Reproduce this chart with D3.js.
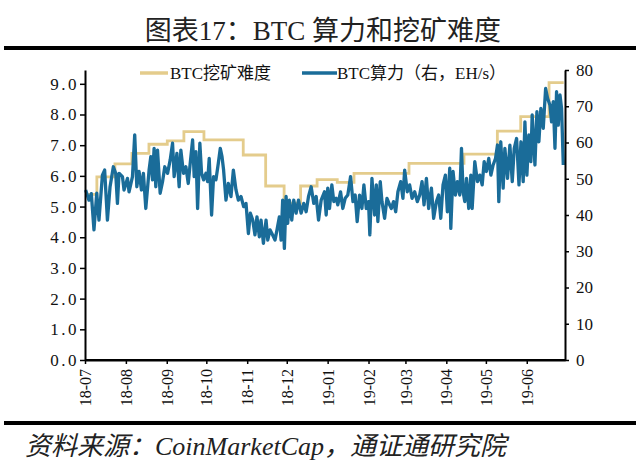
<!DOCTYPE html>
<html><head><meta charset="utf-8">
<script src="https://cdn.jsdelivr.net/npm/d3@7"></script>
<style>
html,body{margin:0;padding:0;background:#fff;}
svg{display:block;}
.serif{font-family:"Liberation Serif","Times New Roman","Noto Sans CJK SC",serif;}
</style></head>
<body>
<svg id="c" width="640" height="470"></svg>
<script>
// ---- data ----
const titleText = "图表17：BTC 算力和挖矿难度";
const sourceText = "资料来源：CoinMarketCap，通证通研究院";
const seriesNames = ["BTC挖矿难度", "BTC算力（右，EH/s）"];
const monthLabels = ["18-07","18-08","18-09","18-10","18-11","18-12","19-01","19-02","19-03","19-04","19-05","19-06"];
const leftTicks = [0,1,2,3,4,5,6,7,8,9];
const rightTicks = [0,10,20,30,40,50,60,70,80];
// mining difficulty (T), step series: days since 2018-07-01
const diffDay = [0, 9, 22.7, 35.6, 48.5, 62.4, 75, 90.2, 120, 137, 151, 163.5, 176, 191.3, 204, 245.7, 287.4, 312.7, 330.4, 351.9, 363];
const diffVal = [5.40, 5.97, 6.39, 6.73, 7.03, 7.14, 7.44, 7.17, 6.68, 5.67, 5.11, 5.67, 5.88, 5.79, 6.08, 6.41, 6.71, 7.46, 7.93, 9.04, 9.04];
// hash rate (EH/s): days since 2018-07-01
const hashDay = [0.5,3.0,4.8,6.8,8.9,10.6,13.2,14.9,17.0,19.0,21.5,23.3,24.6,25.8,28.4,29.6,32.2,33.4,36.0,37.7,39.3,41.0,42.8,44.3,46.1,48.6,49.9,51.2,52.4,53.7,55.0,57.0,58.8,60.5,62.6,64.6,66.4,67.6,69.7,71.4,72.7,74.7,76.5,78.3,79.8,81.6,82.8,84.1,85.4,87.1,88.4,89.9,91.7,93.0,94.2,96.0,97.5,99.3,101.1,102.6,103.9,105.1,106.9,108.7,110.7,112.5,114.5,116.3,118.3,120.3,122.1,123.9,125.4,127.2,128.9,130.4,132.2,133.5,135.3,137.3,138.6,140.3,142.3,144.1,145.6,147.4,148.7,149.9,151.2,152.5,153.7,155.0,156.8,158.3,160.1,161.9,163.9,165.9,167.7,169.5,171.5,173.5,175.3,177.1,179.1,
181.6,182.9,184.1,185.4,187.2,188.7,190.5,191.7,193.8,195.5,197.3,199.3,201.4,203.2,204.9,206.4,208.2,210.0,211.5,213.3,215.0,216.0,217.6,219.6,220.9,222.1,223.9,225.2,227.2,229.0,231.0,232.3,234.0,235.6,237.3,239.4,241.1,242.4,244.4,246.2,248.0,250.0,252.0,253.8,255.6,257.1,258.9,260.6,262.7,264.4,266.5,268.2,269.8,271.5,273.3,274.8,276.6,277.4,279.1,280.9,282.4,284.2,285.5,286.7,288.0,289.3,291.0,292.6,293.6,295.6,297.6,299.4,301.2,302.7,304.4,306.2,307.8,309.5,311.3,312.8,313.8,315.3,317.1,318.4,320.4,322.2,324.0,325.5,327.3,329.1,330.6,332.3,333.6,335.1,336.6,338.1,339.1,341.2,342.7,344.2,345.7,347.5,349.3,350.8,352.6,353.8,355.1,356.4,357.6,358.9,360.2,361.4,362.7];
const hashVal = [46.9,44.1,45.9,35.9,46.0,38.6,51.0,52.4,38.6,47.8,53.3,51.5,43.2,51.5,50.6,46.9,50.1,46.4,50.6,62.1,47.8,52.0,46.9,51.5,41.8,52.4,56.1,49.7,58.4,47.8,57.9,46.0,49.2,53.3,51.5,55.2,59.8,50.6,57.0,47.8,57.9,51.5,53.3,48.7,54.3,60.7,50.6,57.5,41.8,59.8,51.5,49.7,51.5,49.2,55.6,40.0,50.6,49.7,54.3,58.4,56.1,52.4,44.1,48.7,45.1,52.4,46.9,44.1,45.1,42.3,43.2,34.9,40.5,38.6,34.5,39.5,34.0,38.6,32.2,38.6,33.1,35.9,34.5,33.1,35.9,39.5,33.1,44.1,30.8,45.1,37.7,44.1,38.6,44.1,40.5,44.1,40.5,43.2,40.9,45.1,47.8,43.2,45.1,38.6,44.1,
46.4,40.0,47.4,41.8,48.3,43.7,44.6,42.8,46.4,41.8,44.6,45.5,50.6,43.7,45.5,38.2,45.5,41.8,48.3,41.8,43.7,34.5,50.1,40.0,48.3,38.2,49.2,43.7,39.1,44.6,42.8,41.8,43.7,40.9,46.4,49.2,44.6,52.4,46.4,48.3,44.6,46.4,43.7,45.5,49.2,42.8,50.1,41.8,47.4,39.1,43.7,45.5,39.1,48.3,51.0,40.9,52.9,36.3,52.0,45.5,49.2,45.5,58.4,46.4,43.7,50.1,41.8,51.0,41.8,54.7,49.2,51.0,48.3,54.7,52.0,55.6,51.0,53.8,55.6,59.3,43.7,60.2,47.4,58.4,50.1,59.3,49.2,58.4,61.1,48.3,60.2,49.2,65.7,51.0,62.1,54.7,67.6,53.8,68.5,60.2,69.4,63.9,74.9,72.2,70.3,65.7,71.3,58.4,74.0,64.8,73.1,69.4,53.8];

// ---- chart ----
const svg = d3.select("#c");
const x0 = 85, x1 = 565, yTop = 70, yBot = 360;
const start = new Date(2018, 6, 1);
const toDate = d => new Date(start.getTime() + d * 864e5);
const x = d3.scaleTime().domain([start, new Date(2019, 5, 30)]).range([x0, x1]);
const yL = d3.scaleLinear().domain([0, 9.45]).range([yBot, yTop]);
const yR = d3.scaleLinear().domain([0, 80]).range([yBot, yTop]);
const gold = "#E4CC8C", blue = "#1A6C99";

// title
svg.append("text").attr("class","serif").attr("x", 323).attr("y", 40)
  .attr("text-anchor","middle").attr("font-size", 27).attr("fill","#222").text(titleText);
svg.append("rect").attr("x", 4).attr("y", 46).attr("width", 632).attr("height", 4).attr("fill","#000");
svg.append("rect").attr("x", 4).attr("y", 421).attr("width", 632).attr("height", 4).attr("fill","#000");
svg.append("text").attr("class","serif").attr("x", 25).attr("y", 455)
  .attr("font-size", 26).attr("font-style","italic").attr("fill","#222").text(sourceText);

// lines
const diffData = diffDay.map((d, i) => ({t: toDate(d), v: diffVal[i]}));
const hashData = hashDay.map((d, i) => ({t: toDate(d), v: hashVal[i]}));
svg.append("path").datum(diffData)
  .attr("d", d3.line().x(d => x(d.t)).y(d => yL(d.v)).curve(d3.curveStepAfter))
  .attr("fill","none").attr("stroke", gold).attr("stroke-width", 2.8);
svg.append("path").datum(hashData)
  .attr("d", d3.line().x(d => x(d.t)).y(d => yR(d.v)))
  .attr("fill","none").attr("stroke", blue).attr("stroke-width", 3.3).attr("stroke-linejoin","round");

// axes
const gL = svg.append("g").attr("transform", `translate(${x0},0)`)
  .call(d3.axisLeft(yL).tickValues(leftTicks).tickFormat(d3.format(".1f")).tickSize(5).tickSizeOuter(0));
const gR = svg.append("g").attr("transform", `translate(${x1},0)`)
  .call(d3.axisRight(yR).tickValues(rightTicks).tickSize(4).tickSizeOuter(0));
const monthDates = monthLabels.map((m, i) => new Date(2018, 6 + i, 1));
const gB = svg.append("g").attr("transform", `translate(0,${yBot})`)
  .call(d3.axisBottom(x).tickValues(monthDates).tickFormat((d, i) => monthLabels[i]).tickSize(4).tickSizeOuter(0));
[gL, gR, gB].forEach(g => {
  g.select(".domain").attr("stroke","#000").attr("stroke-width", 2);
  g.selectAll(".tick line").attr("stroke","#000").attr("stroke-width", 1.5);
  g.selectAll("text").attr("class","serif").attr("fill","#111");
});
gL.selectAll("text").attr("font-size", 17).attr("letter-spacing", "2.5px").attr("x", -6);
gR.selectAll("text").attr("font-size", 17).attr("x", 11);
gB.selectAll(".tick text").attr("font-size", 16)
  .attr("text-anchor","end").attr("transform","rotate(-90)")
  .attr("x", -9).attr("y", 0).attr("dy", "0.35em");
svg.append("line").attr("x1", x0).attr("x2", x1).attr("y1", yBot).attr("y2", yBot).attr("stroke","#000").attr("stroke-width", 2);

// legend
const lg = svg.append("g");
lg.append("line").attr("x1", 140).attr("x2", 168).attr("y1", 73).attr("y2", 73).attr("stroke", gold).attr("stroke-width", 3.5);
lg.append("text").attr("class","serif").attr("x", 170).attr("y", 79).attr("font-size", 17).attr("fill","#111").text(seriesNames[0]);
lg.append("line").attr("x1", 302).attr("x2", 337).attr("y1", 73).attr("y2", 73).attr("stroke", blue).attr("stroke-width", 3.5);
lg.append("text").attr("class","serif").attr("x", 337).attr("y", 79).attr("font-size", 17).attr("fill","#111").text(seriesNames[1]);
</script>
</body></html>
